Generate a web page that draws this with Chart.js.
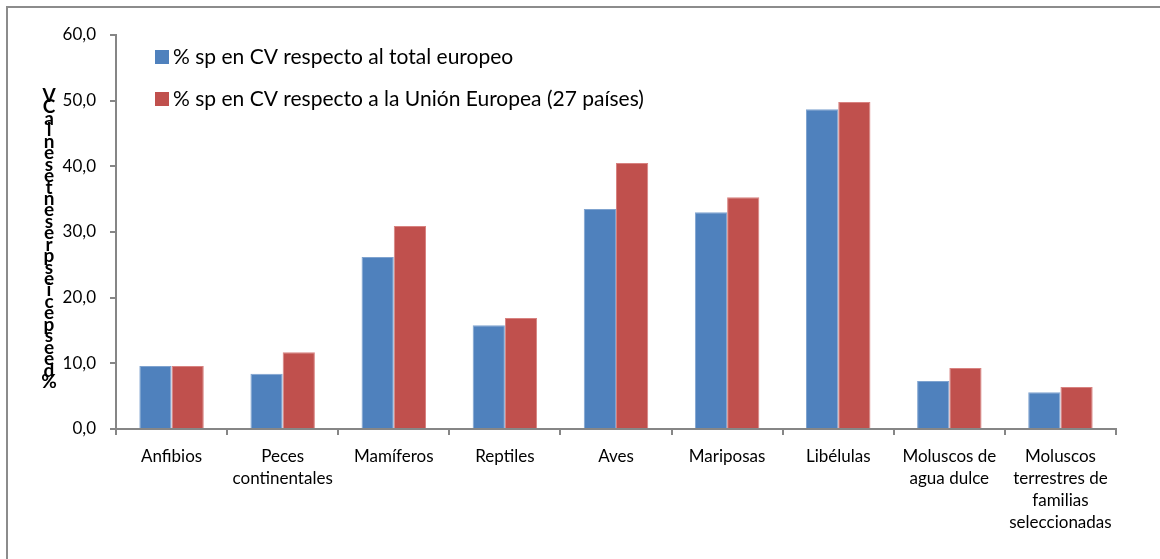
<!DOCTYPE html>
<html>
<head>
<meta charset="utf-8">
<script src="https://cdn.jsdelivr.net/npm/chart.js@4/dist/chart.umd.min.js"></script>
<style>
  html, body { margin: 0; padding: 0; background: #fff; }
  #wrap { width: 1160px; height: 559px; position: relative; }
</style>
</head>
<body>
<div id="wrap"><canvas id="chart"></canvas></div>
<script>
const categories = [
  'Anfibios',
  ['Peces', 'continentales'],
  'Mamíferos',
  'Reptiles',
  'Aves',
  'Mariposas',
  'Libélulas',
  ['Moluscos de', 'agua dulce'],
  ['Moluscos', 'terrestres de', 'familias', 'seleccionadas']
];
const totalEuropeo = [9.6, 8.4, 26.2, 15.8, 33.5, 33.0, 48.7, 7.3, 5.6];
const unionEuropea = [9.6, 11.7, 30.9, 16.9, 40.5, 35.3, 49.8, 9.3, 6.4];
const seriesNames = [
  '% sp en CV respecto al total europeo',
  '% sp en CV respecto a la Unión Europea (27 países)'
];
const yTitle = '% de especies presentes en la CV';

const FONT = 'Lato, "Open Sans", sans-serif';
const axisGray = '#868686';

// outer frame, legend and the stacked y title
const extras = {
  id: 'extras',
  afterDraw(chart) {
    const ctx = chart.ctx;
    ctx.save();
    ctx.strokeStyle = '#8c8c8c';
    ctx.lineWidth = 2;
    ctx.beginPath();
    ctx.moveTo(7, 559);
    ctx.lineTo(7, 7);
    ctx.lineTo(1160, 7);
    ctx.stroke();

    // legend
    ctx.font = '21px ' + FONT;
    ctx.textBaseline = 'middle';
    chart.data.datasets.forEach((ds, i) => {
      const y = 57 + i * 42;
      ctx.fillStyle = ds.backgroundColor;
      ctx.fillRect(155, y - 7, 14, 14);
      ctx.fillStyle = '#000';
      ctx.fillText(ds.label, 173, y);
    });

    // y title, one character under another (spaces take no room)
    ctx.font = 'bold 19px ' + FONT;
    ctx.textAlign = 'center';
    ctx.textBaseline = 'alphabetic';
    const chars = yTitle.replace(/ /g, '').split('').reverse();
    const top = 102, bottom = 388;
    const step = (bottom - top) / (chars.length - 1);
    chars.forEach((c, i) => {
      ctx.fillText(c, 49, top + i * step);
    });
    ctx.restore();
  }
};

new Chart(document.getElementById('chart'), {
  type: 'bar',
  data: {
    labels: categories,
    datasets: [
      { label: seriesNames[0], data: totalEuropeo, backgroundColor: '#4F81BD', borderColor: '#7FA3CF', borderWidth: 1 },
      { label: seriesNames[1], data: unionEuropea, backgroundColor: '#C0504D', borderColor: '#D88280', borderWidth: 1 }
    ]
  },
  options: {
    responsive: true,
    maintainAspectRatio: false,
    animation: false,
    layout: { padding: { left: 0, right: 44, top: 35, bottom: 0 } },
    datasets: { bar: { categoryPercentage: 0.58, barPercentage: 1.0 } },
    plugins: { legend: { display: false }, tooltip: { enabled: false } },
    scales: {
      x: {
        afterFit(s) { s.height = 130; },
        grid: { offset: true, drawOnChartArea: false, color: axisGray, lineWidth: 2, tickLength: 6 },
        border: { color: axisGray, width: 2 },
        ticks: { color: '#000', font: { family: FONT, size: 17, lineHeight: 1.3 }, padding: 10, maxRotation: 0, autoSkip: false }
      },
      y: {
        min: 0, max: 60,
        afterFit(s) { s.width = 116; },
        grid: { drawOnChartArea: false, color: axisGray, lineWidth: 2, tickLength: 6 },
        border: { color: axisGray, width: 2 },
        ticks: {
          stepSize: 10, color: '#000', font: { family: FONT, size: 17 }, padding: 14,
          callback: v => v.toFixed(1).replace('.', ',')
        }
      }
    }
  },
  plugins: [extras]
});
</script>
</body>
</html>
